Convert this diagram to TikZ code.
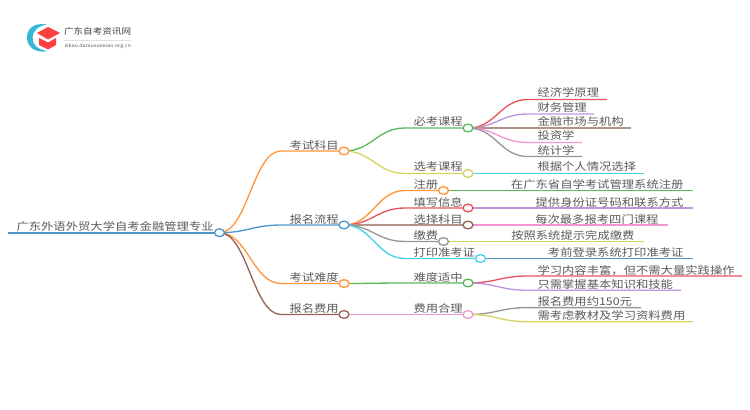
\documentclass[tikz,border=0pt]{standalone}
\usepackage{fontspec}
\setmainfont{Noto Sans CJK SC}[FakeStretch=1.17]
\usetikzlibrary{shapes.geometric}
\definecolor{txtgray}{RGB}{90,90,90}
\definecolor{cblue}{RGB}{80,150,200}
\definecolor{corange}{RGB}{255,150,60}
\definecolor{cgreen}{RGB}{92,184,92}
\definecolor{colive}{RGB}{212,212,96}
\definecolor{cred}{RGB}{232,84,92}
\definecolor{cpurple}{RGB}{190,150,220}
\definecolor{cbrown}{RGB}{150,100,85}
\definecolor{cpink}{RGB}{240,150,210}
\definecolor{cgray}{RGB}{150,150,150}
\definecolor{ccyan}{RGB}{70,210,230}
\tikzset{every picture/.style={line width=0.75pt}}
\tikzset{
  knob/.style={ellipse,draw=#1,fill=white,line width=1pt,minimum width=7.5pt,minimum height=5.8pt,inner sep=0pt},
  lbl/.style={anchor=base west,yshift=0.75pt,inner sep=0.75pt,text=txtgray,font=\fontsize{7.9pt}{9pt}\selectfont},
  rlbl/.style={anchor=base east,yshift=0.75pt,inner sep=0.75pt,text=txtgray,font=\fontsize{7.9pt}{9pt}\selectfont},
  wire/.style={draw=#1,line width=1pt},
}
\newcommand{\branch}[4]{\draw [wire=#1] (#2) .. controls +(28,0) and +(-28,0) .. (#3) -- (#4);}
\begin{document}
\begin{tikzpicture}[x=0.75pt,y=0.75pt,yscale=-1,xscale=1]
  \useasboundingbox (0,0) rectangle (750,410);

  %Shape: logo
  \fill [cblue!70!cyan] (47,24.5) .. controls (33,22) and (26.5,30) .. (27,38) .. controls (27,46) and (35,54) .. (48,51) .. controls (38,50) and (32.5,45) .. (32.5,38) .. controls (32.5,31) and (38,26) .. (47,24.5) -- cycle;
  \fill [red!75!white] (37,33) -- (48,27) -- (60,33) -- (48,39.5) -- cycle;
  \fill [red!75!white] (39,38) -- (48,42.5) -- (56,38) -- (56,45) -- (48,49.5) -- (39,45) -- cycle;
  \node (brand) [anchor=west,inner sep=0pt,text=black!75,font=\fontsize{6.15pt}{7pt}\selectfont] at (63.5,31) {广东自考资讯网};
  \node (domain) [anchor=west,inner sep=0pt,text=black!65,font=\fontsize{3.5pt}{4.5pt}\selectfont] at (64,46) {zikao.daniuxuexiao.org.cn};
  \draw [black!12,line width=0.5pt] (brand.south west |- 0,40) -- (131,40);

  % Free ends of the lines
  \coordinate (rootL) at (8,232.7);
  \coordinate (subjA) at (281,151);
  \coordinate (procA) at (281,225);
  \coordinate (hardA) at (281,283.5);
  \coordinate (costA) at (281,314.5);
  \coordinate (mustA) at (405,128);
  \coordinate (optA) at (405,173.5);
  \coordinate (regA) at (405,190.5);
  \coordinate (fillA) at (405,208);
  \coordinate (pickA) at (405,225);
  \coordinate (payA) at (405,241.5);
  \coordinate (printA) at (405,258.5);
  \coordinate (midA) at (405,283);
  \coordinate (fairA) at (405,314.5);
  \coordinate (econA) at (528,99.5);
  \coordinate (econB) at (607,99.5);
  \coordinate (finA) at (528,114);
  \coordinate (finB) at (594,114);
  \coordinate (mktA) at (528,128);
  \coordinate (mktB) at (631,128);
  \coordinate (invA) at (528,142.5);
  \coordinate (invB) at (582,142.5);
  \coordinate (statA) at (528,156.5);
  \coordinate (statB) at (582,156.5);
  \coordinate (persA) at (528,173.5);
  \coordinate (persB) at (644,173.5);
  \coordinate (regC) at (505,190.5);
  \coordinate (regD) at (693,190.5);
  \coordinate (idA) at (528,208);
  \coordinate (idB) at (693,208);
  \coordinate (fourA) at (528,225);
  \coordinate (fourB) at (668,225);
  \coordinate (payC) at (505,241.5);
  \coordinate (payD) at (644,241.5);
  \coordinate (loginA) at (545,258.5);
  \coordinate (loginB) at (693,258.5);
  \coordinate (richA) at (528,276);
  \coordinate (richB) at (742,276);
  \coordinate (basicA) at (528,290.3);
  \coordinate (basicB) at (681,290.3);
  \coordinate (feeA) at (528,307.6);
  \coordinate (feeB) at (641,307.6);
  \coordinate (bookA) at (528,321.7);
  \coordinate (bookB) at (693,321.7);

  % Knobs, drawn later on top
  \coordinate (root) at (219.5,232.7);
  \coordinate (subj) at (344,151);
  \coordinate (proc) at (344,225);
  \coordinate (hard) at (344,283.5);
  \coordinate (cost) at (344,314.5);
  \coordinate (must) at (468,128);
  \coordinate (opt) at (468,173.5);
  \coordinate (reg) at (443.5,190.5);
  \coordinate (fill) at (468,208);
  \coordinate (pick) at (468,225);
  \coordinate (pay) at (443.5,241.5);
  \coordinate (print) at (480.5,258.5);
  \coordinate (mid) at (468,283);
  \coordinate (fair) at (468,314.5);

  % Root
  \draw [wire=cblue,line width=1.3pt] (rootL) -- (root);
  \branch{corange}{root}{subjA}{subj}
  \branch{cblue}{root}{procA}{proc}
  \branch{corange}{root}{hardA}{hard}
  \branch{cbrown}{root}{costA}{cost}

  % Second level
  \branch{cgreen}{subj}{mustA}{must}
  \branch{colive}{subj}{optA}{opt}
  \branch{corange}{proc}{regA}{reg}
  \branch{cred}{proc}{fillA}{fill}
  \branch{cbrown!70!white}{proc}{pickA}{pick}
  \branch{cgray}{proc}{payA}{pay}
  \branch{ccyan}{proc}{printA}{print}
  \branch{cgreen}{hard}{midA}{mid}
  \branch{cpink}{cost}{fairA}{fair}

  % Leaves
  \branch{cred}{must}{econA}{econB}
  \branch{cpurple}{must}{finA}{finB}
  \branch{cbrown!70!white}{must}{mktA}{mktB}
  \branch{cpink}{must}{invA}{invB}
  \branch{cgray}{must}{statA}{statB}
  \branch{ccyan}{opt}{persA}{persB}
  \branch{cgreen}{reg}{regC}{regD}
  \branch{cpurple}{fill}{idA}{idB}
  \branch{cpink}{pick}{fourA}{fourB}
  \branch{colive}{pay}{payC}{payD}
  \branch{cblue}{print}{loginA}{loginB}
  \branch{cred}{mid}{richA}{richB}
  \branch{cpurple}{mid}{basicA}{basicB}
  \branch{cgray}{fair}{feeA}{feeB}
  \branch{colive}{fair}{bookA}{bookB}

  % Knob shapes
  \node [knob=cblue] (rootK) at (root) {};
  \node [knob=corange] (subjK) at (subj) {};
  \node [knob=cblue] (procK) at (proc) {};
  \node [knob=corange] (hardK) at (hard) {};
  \node [knob=cbrown] (costK) at (cost) {};
  \node [knob=cgreen] (mustK) at (must) {};
  \node [knob=colive] (optK) at (opt) {};
  \node [knob=corange] (regK) at (reg) {};
  \node [knob=cred] (fillK) at (fill) {};
  \node [knob=cbrown] (pickK) at (pick) {};
  \node [knob=cgray] (payK) at (pay) {};
  \node [knob=ccyan] (printK) at (print) {};
  \node [knob=cgreen] (midK) at (mid) {};
  \node [knob=cpink] (fairK) at (fair) {};

  % Text Node
  \node (rootT) [lbl] at (15,231) {广东外语外贸大学自考金融管理专业};
  \node (subjT) [lbl] at (288,150) {考试科目};
  \node (procT) [lbl] at (288,224) {报名流程};
  \node (hardT) [lbl] at (288,282) {考试难度};
  \node (costT) [lbl] at (288,313) {报名费用};
  \node (mustT) [lbl] at (412,127) {必考课程};
  \node (optT) [lbl] at (412,172) {选考课程};
  \node (regT) [lbl] at (412,189) {注册};
  \node (fillT) [lbl] at (412,207) {填写信息};
  \node (pickT) [lbl] at (412,224) {选择科目};
  \node (payT) [lbl] at (412,240) {缴费};
  \node (printT) [lbl] at (412,257) {打印准考证};
  \node (midT) [lbl] at (412,282) {难度适中};
  \node (fairT) [lbl] at (412,313) {费用合理};
  \node (econT) [lbl] at (536,98) {经济学原理};
  \node (finT) [lbl] at (536,113) {财务管理};
  \node (mktT) [lbl] at (536,127) {金融市场与机构};
  \node (invT) [lbl] at (536,141) {投资学};
  \node (statT) [lbl] at (536,155) {统计学};
  \node (persT) [lbl] at (536,172) {根据个人情况选择};
  \node (regL) [rlbl] at (685,189) {在广东省自学考试管理系统注册};
  \node (idT) [rlbl] at (685,207) {提供身份证号码和联系方式};
  \node (fourT) [rlbl] at (660,224) {每次最多报考四门课程};
  \node (payL) [rlbl] at (636,240) {按照系统提示完成缴费};
  \node (loginT) [rlbl] at (685,257) {考前登录系统打印准考证};
  \node (richT) [lbl] at (536,275) {学习内容丰富，但不需大量实践操作};
  \node (basicT) [lbl] at (536,289) {只需掌握基本知识和技能};
  \node (feeT) [lbl] at (536,306) {报名费用约150元};
  \node (bookT) [lbl] at (536,320) {需考虑教材及学习资料费用};
\end{tikzpicture}
\end{document}
